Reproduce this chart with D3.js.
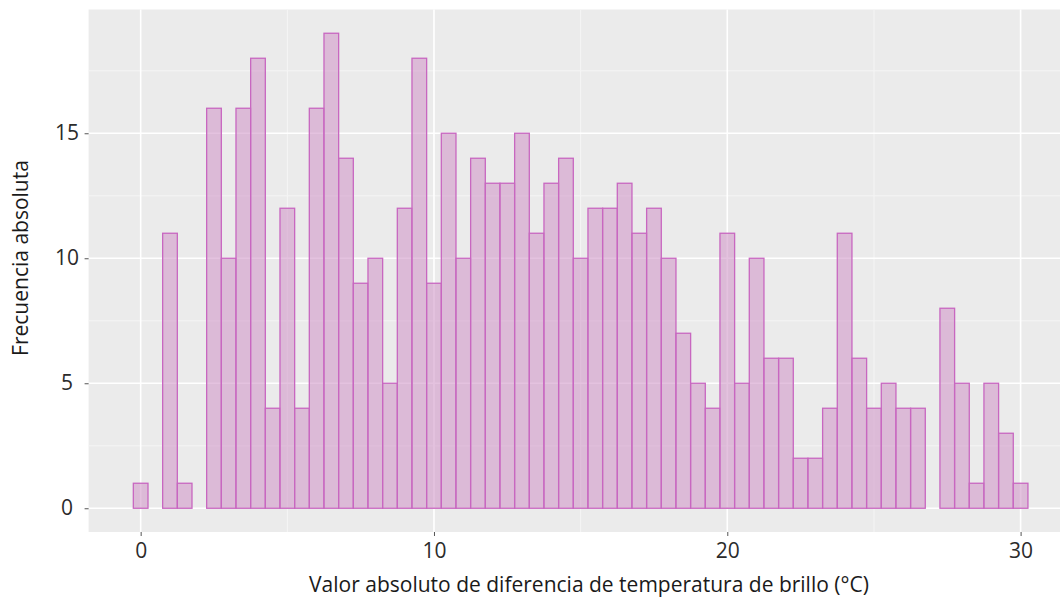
<!DOCTYPE html>
<html>
<head>
<meta charset="utf-8">
<script src="https://cdn.jsdelivr.net/npm/d3@7"></script>
<style>
  body { margin: 0; background: #fff; }
  text { font-family: "Open Sans", "DejaVu Sans", sans-serif; }
</style>
</head>
<body>
<div id="chart"></div>
<script>
//Bin centres (width 0.5) and counts
var binWidth = 0.5;
var binCenters = d3.range(0, 30.01, 0.5);
var counts = [1, 0, 11, 1, 0, 16, 10, 16, 18, 4, 12, 4, 16, 19, 14, 9, 10, 5, 12, 18,
              9, 15, 10, 14, 13, 13, 15, 11, 13, 14, 10, 12, 12, 13, 11, 12, 10, 7, 5, 4,
              11, 5, 10, 6, 6, 2, 2, 4, 11, 6, 4, 5, 4, 4, 0, 8, 5, 1, 5, 3, 1];
var xTicks = [0, 10, 20, 30];
var xMinor = [5, 15, 25];
var yTicks = [0, 5, 10, 15];
var yMinor = [2.5, 7.5, 12.5, 17.5];

var bins = binCenters.map(function(c, i) { return {x0: c - binWidth / 2, x1: c + binWidth / 2, n: counts[i]}; });

var width = 1060, height = 601;

var svg = d3.select("#chart").append("svg")
            .attr("width", width)
            .attr("height", height);

//Panel area (right side runs past the window, as in the reference)
var panel = {left: 88.6, right: 1080, top: 9.5, bottom: 532};

var x = d3.scaleLinear().domain([-1.775, 32.025]).range([panel.left, panel.right]);
var y = d3.scaleLinear().domain([-0.95, 19.95]).range([panel.bottom, panel.top]);

svg.append("rect")
   .attr("x", panel.left).attr("y", panel.top)
   .attr("width", panel.right - panel.left).attr("height", panel.bottom - panel.top)
   .attr("fill", "#ebebeb");

//Grid lines
svg.selectAll(".xminor").data(xMinor).enter().append("line")
   .attr("x1", x).attr("x2", x).attr("y1", panel.top).attr("y2", panel.bottom)
   .attr("stroke", "#f5f5f5").attr("stroke-width", 1);
svg.selectAll(".yminor").data(yMinor).enter().append("line")
   .attr("y1", y).attr("y2", y).attr("x1", panel.left).attr("x2", panel.right)
   .attr("stroke", "#f5f5f5").attr("stroke-width", 1);
svg.selectAll(".xmajor").data(xTicks).enter().append("line")
   .attr("x1", x).attr("x2", x).attr("y1", panel.top).attr("y2", panel.bottom)
   .attr("stroke", "#fff").attr("stroke-width", 1.6);
svg.selectAll(".ymajor").data(yTicks).enter().append("line")
   .attr("y1", y).attr("y2", y).attr("x1", panel.left).attr("x2", panel.right)
   .attr("stroke", "#fff").attr("stroke-width", 1.6);

//Bars
svg.selectAll(".bar").data(bins).enter().append("rect")
   .attr("class", "bar")
   .attr("x", function(d) { return x(d.x0); })
   .attr("width", function(d) { return x(d.x1) - x(d.x0); })
   .attr("y", function(d) { return y(d.n); })
   .attr("height", function(d) { return y(0) - y(d.n); })
   .attr("fill", "#d39ccc")
   .attr("fill-opacity", 0.62)
   .attr("stroke", "#c867c0")
   .attr("stroke-width", 1.3);

//Axes
var xAxis = svg.append("g")
   .attr("transform", "translate(0," + panel.bottom + ")")
   .call(d3.axisBottom(x).tickValues(xTicks).tickSize(4).tickPadding(4).tickFormat(d3.format("d")));
var yAxis = svg.append("g")
   .attr("transform", "translate(" + panel.left + ",0)")
   .call(d3.axisLeft(y).tickValues(yTicks).tickSize(4).tickPadding(5).tickFormat(d3.format("d")));

[xAxis, yAxis].forEach(function(a) {
  a.select(".domain").remove();
  a.selectAll(".tick line").attr("stroke", "#555").attr("stroke-width", 1);
  a.selectAll(".tick text").attr("fill", "#2b2b2b").style("font-size", "21px");
});
xAxis.selectAll(".tick text").attr("dy", "0").attr("y", 26);
//y labels sit centred in the reference rather than flush right
yAxis.selectAll(".tick text").attr("text-anchor", "middle").attr("x", -21.5);

//Axis titles
svg.append("text")
   .attr("x", 589).attr("y", 592)
   .attr("text-anchor", "middle")
   .attr("fill", "#1a1a1a")
   .style("font-size", "21px")
   .text("Valor absoluto de diferencia de temperatura de brillo (°C)");

svg.append("text")
   .attr("transform", "translate(28," + 258 + ") rotate(-90)")
   .attr("text-anchor", "middle")
   .attr("fill", "#1a1a1a")
   .style("font-size", "21px")
   .text("Frecuencia absoluta");
</script>
</body>
</html>
